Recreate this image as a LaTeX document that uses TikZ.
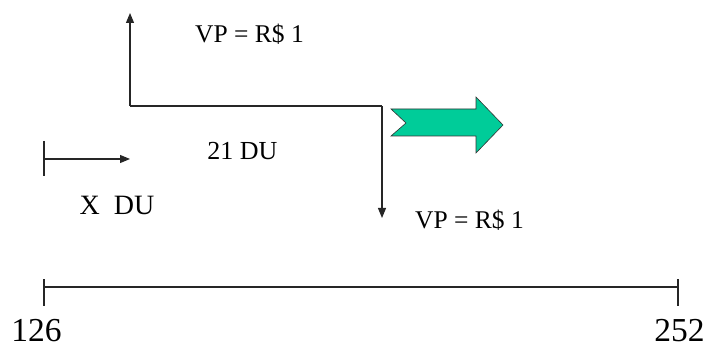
\documentclass[tikz,border=0pt]{standalone}
\usepackage{fontspec}
\setmainfont{Liberation Serif}
\usetikzlibrary{arrows.meta}
\definecolor{arrowgreen}{HTML}{00CC99}
\begin{document}
\begin{tikzpicture}[x=1pt,y=-1pt,
  ln/.style={line width=1.1pt,draw=black!85},
  tip/.style={-{Triangle[length=10pt,width=8pt]}},
  lbl/.style={anchor=base,inner sep=0pt,font=\fontsize{25.5}{30}\selectfont},
  biglbl/.style={anchor=base,inner sep=0pt,text depth=0pt,font=\fontsize{33.5}{38}\selectfont}]
\useasboundingbox (0,0) rectangle (709,347);
% main step path
\coordinate (up) at (130,13);
\coordinate (a) at (130,106);
\coordinate (b) at (382,106);
\coordinate (down) at (382,218);
\draw[ln,tip] (a) -- (up);
\draw[ln] (a) -- (b);
\draw[ln,tip] (b) -- (down);
% green block arrow
\draw[fill=arrowgreen,draw=black!80,line width=0.6pt]
  (391,109) -- (476,109) -- (476,97) -- (503,125) -- (476,153) -- (476,136) -- (391,136) -- (406,123) -- cycle;
% small arrow
\coordinate (s1) at (44,141);
\coordinate (s2) at (44,176);
\coordinate (s0) at (44,159);
\coordinate (s3) at (130,159);
\draw[ln] (s1) -- (s2);
\draw[ln,tip] (s0) -- (s3);
% axis
\coordinate (l) at (44,287);
\coordinate (r) at (678,287);
\coordinate (lt) at (44,279);
\coordinate (lb) at (44,306);
\coordinate (rt) at (678,279);
\coordinate (rb) at (678,306);
\draw[ln] (l) -- (r);
\draw[ln] (lt) -- (lb);
\draw[ln] (rt) -- (rb);
% labels
\node[lbl] (vp1) at (249.5,43) {VP = R\$ 1};
\node[lbl] (vp2) at (469.5,229) {VP = R\$ 1};
\node[lbl,font=\fontsize{26}{30}\selectfont] (du21) at (242.5,160) {21 DU};
\node[lbl,font=\fontsize{28}{32}\selectfont] (xdu) at (117,215) {X\ \ DU};
\node[biglbl] (n126) at (36.5,341) {126};
\node[biglbl] (n252) at (679.5,341) {252};
\end{tikzpicture}
\end{document}
